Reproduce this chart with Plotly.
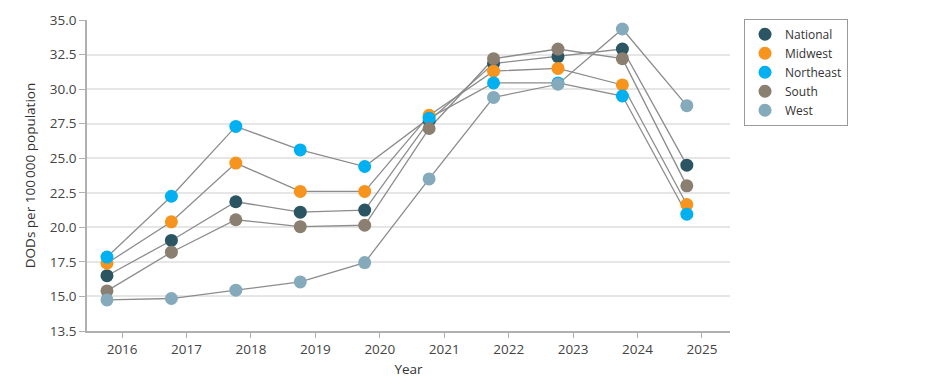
import plotly.graph_objects as go

years = [2016, 2017, 2018, 2019, 2020, 2021, 2022, 2023, 2024, 2025]
national = [16.5, 19.05, 21.85, 21.1, 21.25, 27.7, 31.85, 32.35, 32.9, 24.5]
midwest = [17.4, 20.4, 24.65, 22.6, 22.6, 28.1, 31.3, 31.5, 30.3, 21.65]
northeast = [17.85, 22.25, 27.3, 25.6, 24.4, 27.9, 30.45, 30.45, 29.5, 20.95]
south = [15.4, 18.2, 20.55, 20.05, 20.15, 27.15, 32.2, 32.9, 32.2, 23.0]
west = [14.75, 14.85, 15.45, 16.05, 17.45, 23.5, 29.4, 30.35, 34.35, 28.8]

series_names = ["National", "Midwest", "Northeast", "South", "West"]
series_values = [national, midwest, northeast, south, west]
colors = ["#2b5563", "#f7941d", "#00b0f0", "#8a7f70", "#85aabb"]

y_tickvals = [12.5, 15, 17.5, 20, 22.5, 25, 27.5, 30, 32.5, 35]
y_ticktext = ["13.5", "15.0", "17.5", "20.0", "22.5", "25.0", "27.5", "30.0", "32.5", "35.0"]
x_tick_shift = 0.235

fig = go.Figure()
for vals in series_values:
    fig.add_trace(go.Scatter(x=years, y=vals, mode="lines",
                             line=dict(color="#8c8c8c", width=1.3),
                             showlegend=False, hoverinfo="skip"))
for name, vals, c in zip(series_names, series_values, colors):
    fig.add_trace(go.Scatter(x=years, y=vals, mode="markers", name=name,
                             marker=dict(color=c, size=13, line=dict(width=0))))

font_family = "Open Sans, DejaVu Sans, sans-serif"
fig.update_layout(
    width=936, height=382,
    margin=dict(l=79, r=214, t=12, b=59, autoexpand=False),
    paper_bgcolor="white", plot_bgcolor="white",
    font=dict(family=font_family, size=13, color="#3c3c3c"),
    legend=dict(x=1.0218, y=1.004, xanchor="left", yanchor="top",
                bordercolor="#9a9a9a", borderwidth=1,
                font=dict(size=12, color="#333"),
                itemwidth=30, tracegroupgap=0),
    xaxis=dict(range=[2015.69, 2025.67],
               tickvals=[y + x_tick_shift for y in years],
               ticktext=[str(y) for y in years],
               showgrid=False, zeroline=False,
               showline=True, linecolor="#b0b0b0", linewidth=1.5,
               ticks="outside", ticklen=5, tickcolor="#b0b0b0",
               tickfont=dict(size=13.5, color="#444"),
               title=dict(text="Year", font=dict(size=13.5, color="#333"), standoff=8)),
    yaxis=dict(range=[12.5, 35], tickvals=y_tickvals, ticktext=y_ticktext,
               showgrid=True, gridcolor="#e6e6e6", gridwidth=1.5, zeroline=False,
               showline=True, linecolor="#b0b0b0", linewidth=1.5,
               ticks="outside", ticklen=6, tickcolor="#b0b0b0",
               tickfont=dict(size=13.5, color="#444"),
               title=dict(text="DODs per 100\u2009000 population",
                          font=dict(size=13.5, color="#333"), standoff=11)),
)
fig.write_html("out.html")
